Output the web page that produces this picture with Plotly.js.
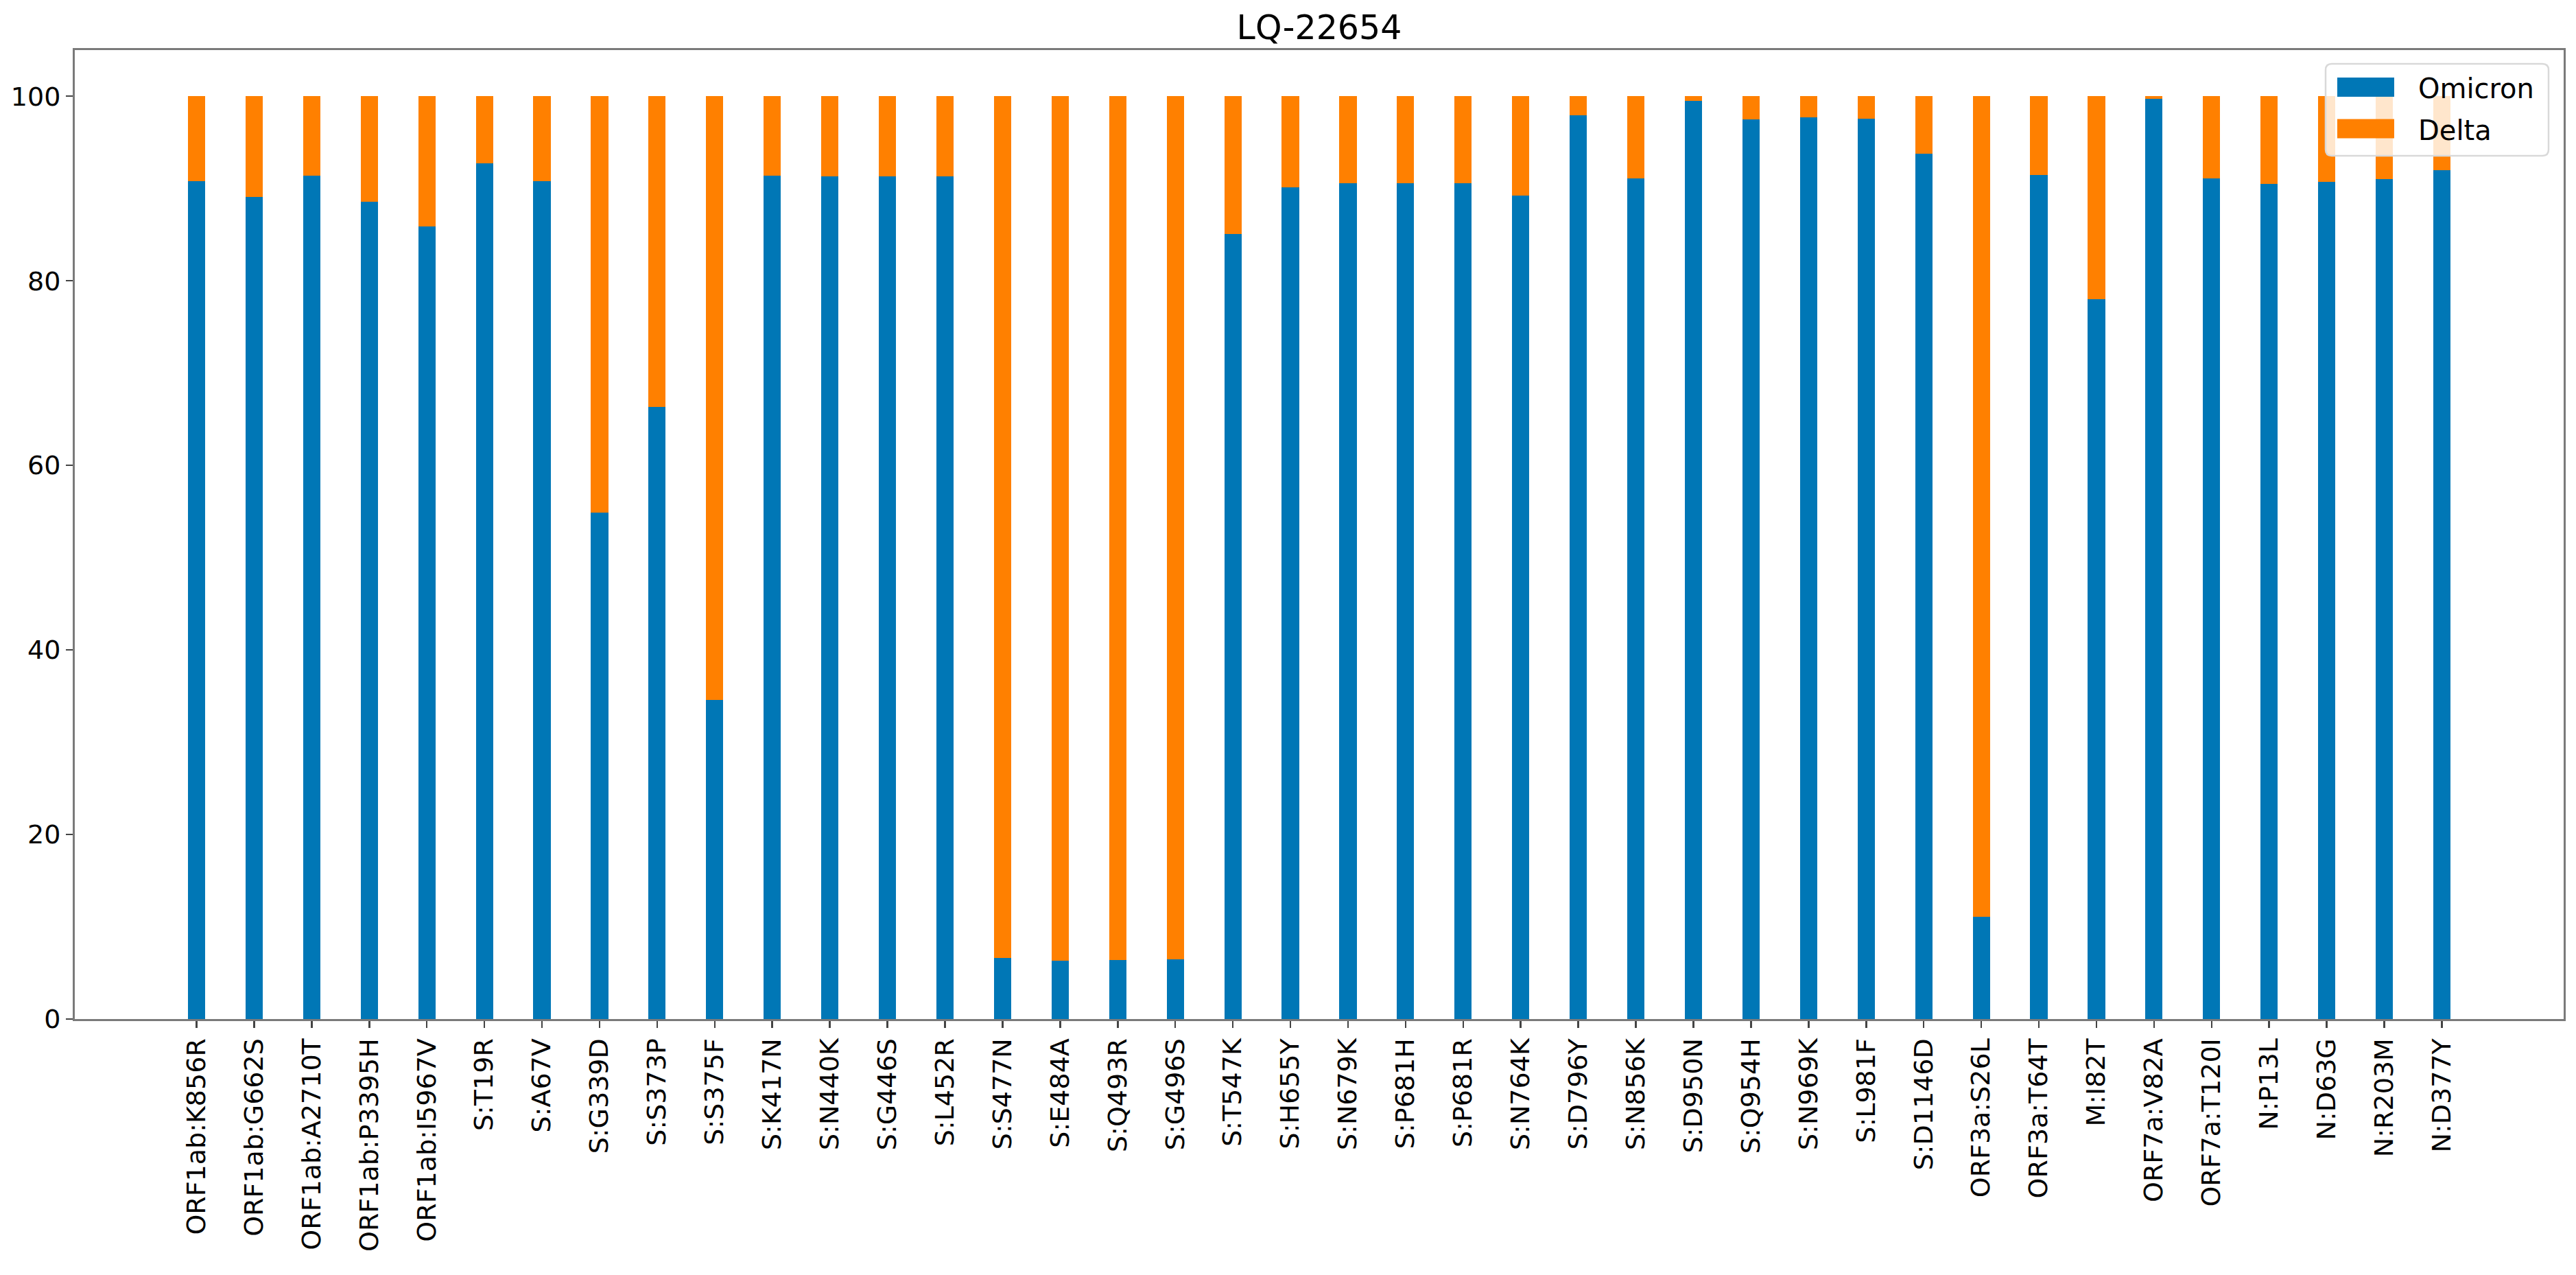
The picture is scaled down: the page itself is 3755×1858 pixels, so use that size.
<!DOCTYPE html>
<html>
<head>
<meta charset="utf-8">
<script src="https://cdn.plot.ly/plotly-3.0.1.min.js"></script>
<style>
html,body{margin:0;padding:0;background:#fff;}
#chart{width:3755px;height:1858px;}
</style>
</head>
<body>
<div id="chart"></div>
<script>
// ---- data ----
const categories = [
  "ORF1ab:K856R","ORF1ab:G662S","ORF1ab:A2710T","ORF1ab:P3395H","ORF1ab:I5967V",
  "S:T19R","S:A67V","S:G339D","S:S373P","S:S375F",
  "S:K417N","S:N440K","S:G446S","S:L452R","S:S477N",
  "S:E484A","S:Q493R","S:G496S","S:T547K","S:H655Y",
  "S:N679K","S:P681H","S:P681R","S:N764K","S:D796Y",
  "S:N856K","S:D950N","S:Q954H","S:N969K","S:L981F",
  "S:D1146D","ORF3a:S26L","ORF3a:T64T","M:I82T","ORF7a:V82A",
  "ORF7a:T120I","N:P13L","N:D63G","N:R203M","N:D377Y"
];
const omicron = [
  90.8, 89.1, 91.4, 88.6, 85.9,
  92.7, 90.8, 54.9, 66.3, 34.6,
  91.4, 91.3, 91.3, 91.3, 6.6,
  6.3, 6.4, 6.5, 85.1, 90.1,
  90.6, 90.6, 90.6, 89.2, 97.9,
  91.1, 99.5, 97.5, 97.7, 97.6,
  93.8, 11.1, 91.5, 78.0, 99.7,
  91.1, 90.5, 90.7, 91.0, 92.0
];
const delta = [
  9.2, 10.9, 8.6, 11.4, 14.1,
  7.3, 9.2, 45.1, 33.7, 65.4,
  8.6, 8.7, 8.7, 8.7, 93.4,
  93.7, 93.6, 93.5, 14.9, 9.9,
  9.4, 9.4, 9.4, 10.8, 2.1,
  8.9, 0.5, 2.5, 2.3, 2.4,
  6.2, 88.9, 8.5, 22.0, 0.3,
  8.9, 9.5, 9.3, 9.0, 8.0
];
const yTicks = [0, 20, 40, 60, 80, 100];
const seriesNames = ["Omicron", "Delta"];
const seriesColors = ["#0077b6", "#ff8000"];
const chartTitle = "LQ-22654";

// ---- layout constants ----
const W = 3755, H = 1858;
const L = 109, R = 18, T = 73, B = 373;
const PW = W - L - R, PH = H - T - B;
const px2x = p => (p - L) / PW;
const px2y = p => (H - B - p) / PH;
const FONT = "DejaVu Sans, Liberation Sans, sans-serif";

const traces = [
  {type: "bar", name: seriesNames[0], x: categories, y: omicron,
   marker: {color: seriesColors[0], line: {width: 0}}, showlegend: false},
  {type: "bar", name: seriesNames[1], x: categories, y: delta,
   marker: {color: seriesColors[1], line: {width: 0}}, showlegend: false}
];

// legend drawn as a matplotlib-style box
const bx0 = px2x(3390), bx1 = px2x(3715), by0 = px2y(227), by1 = px2y(93);
const rx = 9 / PW, ry = 9 / PH;
const boxPath = `M ${bx0+rx},${by1} L ${bx1-rx},${by1} Q ${bx1},${by1} ${bx1},${by1-ry} ` +
  `L ${bx1},${by0+ry} Q ${bx1},${by0} ${bx1-rx},${by0} L ${bx0+rx},${by0} ` +
  `Q ${bx0},${by0} ${bx0},${by0+ry} L ${bx0},${by1-ry} Q ${bx0},${by1} ${bx0+rx},${by1} Z`;
const rowCenters = [127, 187.5];
const shapes = [
  {type: "path", xref: "paper", yref: "paper", path: boxPath,
   fillcolor: "rgba(255,255,255,0.8)", line: {color: "#d9d9d9", width: 2.5}, layer: "above"}
];
const annotations = [];
seriesNames.forEach((nm, i) => {
  const c = rowCenters[i];
  shapes.push({type: "rect", xref: "paper", yref: "paper",
    x0: px2x(3407), x1: px2x(3490), y0: px2y(c + 14), y1: px2y(c - 14),
    fillcolor: seriesColors[i], line: {width: 0}, layer: "above"});
  annotations.push({xref: "paper", yref: "paper", x: px2x(3523), y: px2y(c + 2),
    xanchor: "left", yanchor: "middle", showarrow: false, text: nm,
    font: {family: FONT, size: 40, color: "#000"}});
});

const layout = {
  width: W, height: H,
  margin: {l: L, r: R, t: T, b: B, pad: 0},
  paper_bgcolor: "#fff", plot_bgcolor: "#fff",
  barmode: "stack", bargap: 0.7,
  showlegend: false,
  font: {family: FONT, color: "#000"},
  title: {text: chartTitle, font: {family: FONT, size: 49, color: "#000"},
          x: 0.5, xref: "paper", xanchor: "center",
          y: 1 - 40 / H, yref: "container", yanchor: "middle"},
  xaxis: {
    type: "category", range: [-2.115, categories.length - 1 + 2.115],
    tickangle: -90, tickfont: {family: FONT, size: 38, color: "#000"},
    ticks: "outside", ticklen: 10, tickwidth: 2.5, tickcolor: "#444",
    showline: true, mirror: true, linecolor: "#7a7a7a", linewidth: 3,
    showgrid: false, zeroline: false, fixedrange: true
  },
  yaxis: {
    range: [0, 105], tickvals: yTicks, ticktext: yTicks.map(String),
    tickfont: {family: FONT, size: 38, color: "#000"},
    ticks: "outside", ticklen: 10, tickwidth: 2.5, tickcolor: "#444",
    showline: true, mirror: true, linecolor: "#7a7a7a", linewidth: 3,
    showgrid: false, zeroline: false, fixedrange: true
  },
  shapes: shapes,
  annotations: annotations
};

Plotly.newPlot("chart", traces, layout, {displayModeBar: false, staticPlot: true});
</script>
</body>
</html>
